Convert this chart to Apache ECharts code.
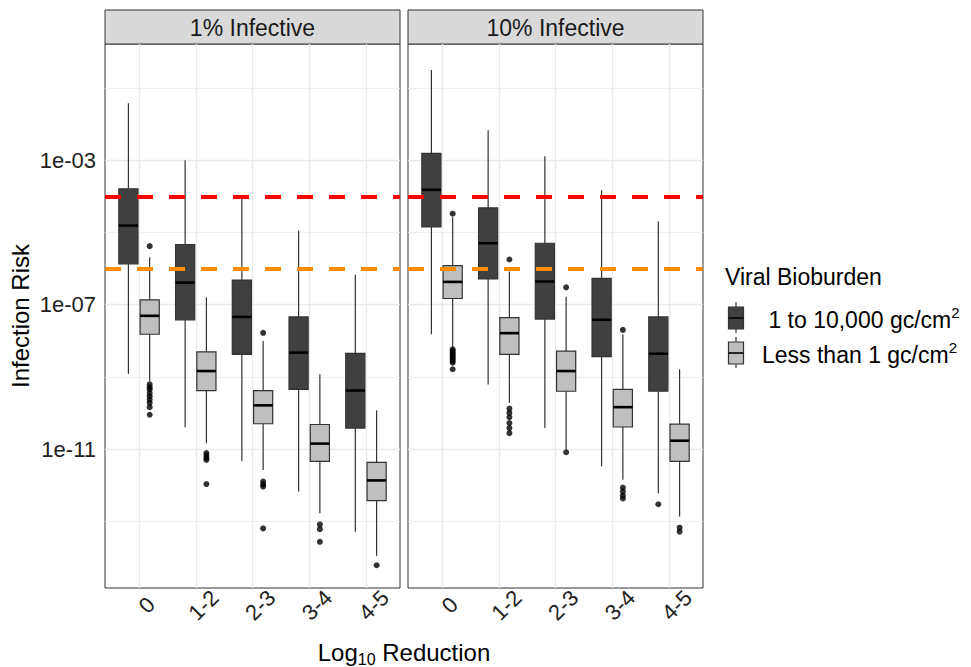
<!DOCTYPE html>
<html>
<head>
<meta charset="utf-8">
<title>Infection Risk</title>
<script src="https://cdn.jsdelivr.net/npm/echarts@6.0.0/dist/echarts.min.js"></script>
<style>
  html, body { margin: 0; padding: 0; background: #fff; }
  #chart { width: 971px; height: 667px; }
</style>
</head>
<body>
<div id="chart"></div>
<script>
var categories = ['0', '1-2', '2-3', '3-4', '4-5'];
var panels = ['1% Infective', '10% Infective'];
var groupNames = [' 1 to 10,000 gc/cm', 'Less than 1 gc/cm'];
var yLabelTicks = [-3, -7, -11];
var yMinorGrid = [-13, -9, -5, -1];
var thresholds = [-4, -6];

// log10 infection risk per category: [lower whisker, Q1, median, Q3, upper whisker]
var dark1 = [
    [-8.92, -5.87, -4.81, -3.79, -1.42],
    [-10.40, -7.42, -6.39, -5.34, -3.00],
    [-11.33, -8.38, -7.34, -6.32, -4.07],
    [-12.18, -9.35, -8.33, -7.34, -4.95],
    [-13.29, -10.42, -9.38, -8.35, -6.17]
];
var light1 = [
    [-9.12, -7.82, -7.31, -6.87, -5.69],
    [-10.84, -9.38, -8.84, -8.31, -6.80],
    [-11.58, -10.30, -9.79, -9.38, -8.01],
    [-12.78, -11.34, -10.85, -10.32, -8.93],
    [-13.96, -12.43, -11.87, -11.37, -9.93]
];
var dark10 = [
    [-7.82, -4.85, -3.82, -2.81, -0.50],
    [-9.21, -6.29, -5.30, -4.32, -2.17],
    [-10.42, -7.40, -6.36, -5.30, -2.89],
    [-11.48, -8.44, -7.42, -6.27, -3.83],
    [-12.23, -9.40, -8.36, -7.34, -4.70]
];
var light10 = [
    [-8.19, -6.83, -6.37, -5.92, -4.58],
    [-9.72, -8.38, -7.79, -7.36, -6.08],
    [-11.02, -9.40, -8.84, -8.29, -6.78],
    [-11.85, -10.39, -9.84, -9.35, -7.82],
    [-12.87, -11.34, -10.77, -10.31, -8.79]
];

// outliers: [category index, log10 risk]
var outDark1 = [];
var outLight1 = [
    [0, -5.38], [0, -9.21], [0, -9.29], [0, -9.35], [0, -9.45], [0, -9.54], [0, -9.63], [0, -9.72], [0, -9.84], [0, -10.05],
    [1, -11.11], [1, -11.18], [1, -11.25], [1, -11.30], [1, -11.97],
    [2, -7.78], [2, -11.90], [2, -11.98], [2, -12.04], [2, -13.20],
    [3, -13.09], [3, -13.22], [3, -13.57],
    [4, -14.22]
];
var outDark10 = [[4, -12.53]];
var outLight10 = [
    [0, -4.48], [0, -8.24], [0, -8.29], [0, -8.33], [0, -8.38], [0, -8.42], [0, -8.47], [0, -8.51], [0, -8.56], [0, -8.61], [0, -8.79],
    [1, -5.75], [1, -9.88], [1, -10.00], [1, -10.12], [1, -10.28], [1, -10.42], [1, -10.56],
    [2, -6.52], [2, -11.09],
    [3, -7.70], [3, -12.07], [3, -12.18], [3, -12.29], [3, -12.37],
    [4, -13.18], [4, -13.29]
];

var darkFill = '#404040';
var lightFill = '#bfbfbf';
var lineCol = '#333333';
var dodge = 0.1875;
var boxWidth = 0.3375;
var font = 'Liberation Sans, Arial, sans-serif';

var chart = echarts.init(document.getElementById('chart'), null, {renderer: 'svg'});

function renderBox(params, api) {
    var x = api.value(0);
    var half = api.size([boxWidth, 0])[0] / 2;
    var lo = api.coord([x, api.value(1)]);
    var q1 = api.coord([x, api.value(2)]);
    var md = api.coord([x, api.value(3)]);
    var q3 = api.coord([x, api.value(4)]);
    var hi = api.coord([x, api.value(5)]);
    return {
        type: 'group',
        children: [
            {type: 'line', shape: {x1: hi[0], y1: hi[1], x2: q3[0], y2: q3[1]}, style: {stroke: lineCol, lineWidth: 1.2}},
            {type: 'line', shape: {x1: q1[0], y1: q1[1], x2: lo[0], y2: lo[1]}, style: {stroke: lineCol, lineWidth: 1.2}},
            {type: 'rect', shape: {x: q3[0] - half, y: q3[1], width: half * 2, height: q1[1] - q3[1]},
                style: {fill: api.visual('color'), stroke: lineCol, lineWidth: 1.2}},
            {type: 'line', shape: {x1: md[0] - half, y1: md[1], x2: md[0] + half, y2: md[1]}, style: {stroke: '#000', lineWidth: 2.6}}
        ]
    };
}

function boxSeries(rows, offset, color, g) {
    return {
        type: 'custom',
        xAxisIndex: g,
        yAxisIndex: g,
        z: 3,
        itemStyle: {color: color},
        renderItem: renderBox,
        encode: {x: 0, y: [1, 2, 3, 4, 5]},
        data: rows.map(function (r, i) {
            return [i + offset].concat(r);
        })
    };
}

function outlierSeries(points, offset, g) {
    return {
        type: 'scatter',
        xAxisIndex: g,
        yAxisIndex: g,
        z: 6,
        symbolSize: 6,
        itemStyle: {color: '#000'},
        data: points.map(function (p) {
            return [p[0] + offset, p[1]];
        })
    };
}

// panel grid lines, kept under the boxes
function gridLineSeries(g) {
    var data = [];
    categories.forEach(function (c, i) {
        data.push({xAxis: i, lineStyle: {width: 1.4}});
    });
    yLabelTicks.forEach(function (v) {
        data.push({yAxis: v, lineStyle: {width: 1.4}});
    });
    yMinorGrid.forEach(function (v) {
        data.push({yAxis: v, lineStyle: {width: 0.8}});
    });
    return {
        type: 'line',
        xAxisIndex: g,
        yAxisIndex: g,
        data: [],
        z: 1,
        silent: true,
        markLine: {
            silent: true,
            z: 1,
            symbol: 'none',
            label: {show: false},
            lineStyle: {color: '#ebebeb', type: 'solid'},
            data: data
        }
    };
}

function thresholdSeries(g) {
    var colors = ['#ff0000', '#ff8c00'];
    return {
        type: 'line',
        xAxisIndex: g,
        yAxisIndex: g,
        data: [],
        z: 5,
        silent: true,
        markLine: {
            silent: true,
            z: 5,
            symbol: 'none',
            label: {show: false},
            data: thresholds.map(function (v, i) {
                return {yAxis: v, lineStyle: {color: colors[i], width: 4, type: [16, 16], dashOffset: 0}};
            })
        }
    };
}

var grids = [
    {left: 105, top: 44, width: 295, height: 544},
    {left: 408, top: 44, width: 295, height: 544}
];
grids.forEach(function (gr) {
    gr.show = true;
    gr.borderColor = lineCol;
    gr.borderWidth = 1;
    gr.backgroundColor = '#fff';
});

var xAxes = grids.map(function (gr, g) {
    return {
        type: 'value',
        gridIndex: g,
        min: -0.6,
        max: 4.6,
        axisLine: {show: false},
        splitLine: {show: false},
        axisTick: {show: true, length: 5, customValues: [0, 1, 2, 3, 4], lineStyle: {color: lineCol}},
        axisLabel: {
            customValues: [0, 1, 2, 3, 4],
            rotate: 45,
            align: 'center',
            verticalAlign: 'middle',
            padding: [0, 0, 0, 22],
            margin: 25,
            fontSize: 22,
            fontFamily: font,
            color: '#222',
            formatter: function (v) {
                return categories[Math.round(v)];
            }
        }
    };
});

var yAxes = grids.map(function (gr, g) {
    return {
        type: 'value',
        gridIndex: g,
        min: -14.85,
        max: 0.22,
        axisLine: {show: false},
        splitLine: {show: false},
        name: g === 0 ? 'Infection Risk' : '',
        nameLocation: 'middle',
        nameGap: 73,
        nameTextStyle: {fontSize: 24, fontFamily: font, color: '#000'},
        axisTick: {show: g === 0, length: 5, customValues: yLabelTicks, lineStyle: {color: lineCol}},
        axisLabel: {
            show: g === 0,
            customValues: yLabelTicks,
            margin: 9,
            fontSize: 22,
            fontFamily: font,
            color: '#222',
            formatter: function (v) {
                var e = Math.round(-v);
                return '1e-' + (e < 10 ? '0' + e : e);
            }
        }
    };
});

var series = [];
[[dark1, light1, outDark1, outLight1], [dark10, light10, outDark10, outLight10]].forEach(function (p, g) {
    series.push(gridLineSeries(g));
    series.push(boxSeries(p[0], -dodge, darkFill, g));
    series.push(boxSeries(p[1], dodge, lightFill, g));
    series.push(thresholdSeries(g));
    series.push(outlierSeries(p[2], -dodge, g));
    series.push(outlierSeries(p[3], dodge, g));
});

var graphics = [];
panels.forEach(function (name, g) {
    var gr = grids[g];
    graphics.push({
        type: 'rect',
        shape: {x: gr.left, y: 10, width: gr.width, height: 34},
        style: {fill: '#d9d9d9', stroke: lineCol, lineWidth: 1}
    });
    graphics.push({
        type: 'text',
        x: gr.left + gr.width / 2,
        y: 28,
        style: {text: name, fontSize: 23, fontFamily: font, fill: '#1a1a1a', align: 'center', verticalAlign: 'middle'}
    });
});

// x axis title with subscript
graphics.push({
    type: 'text',
    x: 404,
    y: 652,
    style: {
        text: '{a|Log}{b|10}{a| Reduction}',
        align: 'center',
        verticalAlign: 'middle',
        rich: {
            a: {fontSize: 24, fontFamily: font, fill: '#000', lineHeight: 30},
            b: {fontSize: 16, fontFamily: font, fill: '#000', verticalAlign: 'bottom', lineHeight: 30}
        }
    }
});

// legend
graphics.push({
    type: 'text',
    x: 725,
    y: 277,
    style: {text: 'Viral Bioburden', fontSize: 23, fontFamily: font, fill: '#000', verticalAlign: 'middle'}
});
var keyTops = [302, 337];
var keyFills = [darkFill, lightFill];
var keyTextX = [762, 762];
keyTops.forEach(function (top, i) {
    graphics.push({type: 'line', shape: {x1: 736, y1: top, x2: 736, y2: top + 31}, style: {stroke: lineCol, lineWidth: 1.2}});
    graphics.push({type: 'rect', shape: {x: 728.5, y: top + 5, width: 15, height: 22}, style: {fill: keyFills[i], stroke: lineCol, lineWidth: 1.2}});
    graphics.push({type: 'line', shape: {x1: 728.5, y1: top + 16, x2: 743.5, y2: top + 16}, style: {stroke: '#000', lineWidth: 1.6}});
    graphics.push({
        type: 'text',
        x: keyTextX[i],
        y: top + 18,
        style: {
            text: '{t|' + groupNames[i] + '}{s|2}',
            verticalAlign: 'middle',
            rich: {
                t: {fontSize: 23, fontFamily: font, fill: '#000', lineHeight: 30},
                s: {fontSize: 15, fontFamily: font, fill: '#000', verticalAlign: 'top', lineHeight: 30}
            }
        }
    });
});

chart.setOption({
    animation: false,
    backgroundColor: '#fff',
    grid: grids,
    xAxis: xAxes,
    yAxis: yAxes,
    series: series,
    graphic: graphics
});
</script>
</body>
</html>
